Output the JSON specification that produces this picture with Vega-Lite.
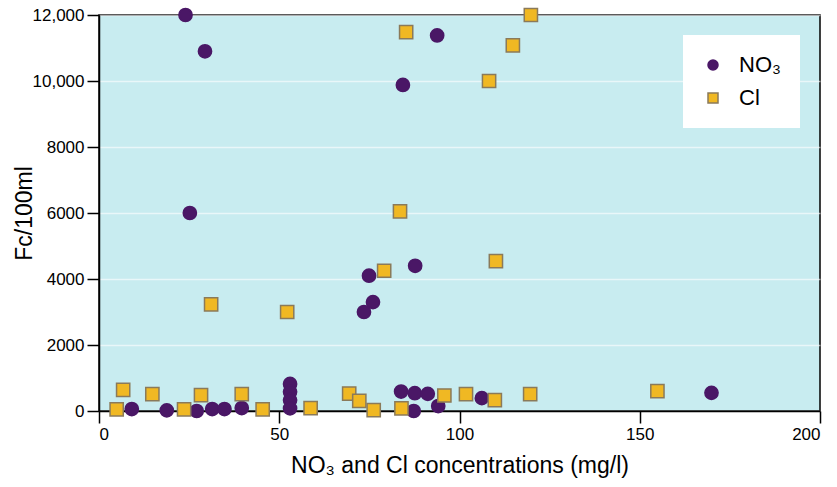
{
  "$schema": "https://vega.github.io/schema/vega-lite/v6.json",
  "width": 721,
  "height": 396,
  "autosize": {"type": "none"},
  "padding": {"left": 99, "top": 15, "right": 17, "bottom": 76},
  "background": "white",
  "config": {
    "font": "Liberation Sans",
    "view": {"fill": "#c8ecf0", "stroke": "black", "strokeWidth": 1.5},
    "axis": {
      "domainColor": "black", "domainWidth": 1.5, "tickColor": "black", "tickWidth": 1.5, "tickSize": 12,
      "labelFontSize": 17, "labelColor": "black", "titleFontSize": 23, "titleFontWeight": "normal", "titleColor": "black"
    }
  },
  "data": {"values": [
    {"c": 24, "fc": 12000, "ion": "NO₃"},
    {"c": 29.4, "fc": 10900, "ion": "NO₃"},
    {"c": 25.2, "fc": 6000, "ion": "NO₃"},
    {"c": 84.3, "fc": 9880, "ion": "NO₃"},
    {"c": 93.8, "fc": 11380, "ion": "NO₃"},
    {"c": 87.7, "fc": 4400, "ion": "NO₃"},
    {"c": 74.9, "fc": 4100, "ion": "NO₃"},
    {"c": 76.0, "fc": 3300, "ion": "NO₃"},
    {"c": 73.5, "fc": 3000, "ion": "NO₃"},
    {"c": 9.1, "fc": 60, "ion": "NO₃"},
    {"c": 18.8, "fc": 20, "ion": "NO₃"},
    {"c": 27.1, "fc": 0, "ion": "NO₃"},
    {"c": 31.4, "fc": 60, "ion": "NO₃"},
    {"c": 34.8, "fc": 60, "ion": "NO₃"},
    {"c": 39.6, "fc": 90, "ion": "NO₃"},
    {"c": 53.0, "fc": 820, "ion": "NO₃"},
    {"c": 53.0, "fc": 580, "ion": "NO₃"},
    {"c": 53.0, "fc": 330, "ion": "NO₃"},
    {"c": 53.0, "fc": 80, "ion": "NO₃"},
    {"c": 83.8, "fc": 590, "ion": "NO₃"},
    {"c": 87.6, "fc": 540, "ion": "NO₃"},
    {"c": 87.3, "fc": 0, "ion": "NO₃"},
    {"c": 91.2, "fc": 520, "ion": "NO₃"},
    {"c": 94.1, "fc": 150, "ion": "NO₃"},
    {"c": 106.2, "fc": 390, "ion": "NO₃"},
    {"c": 169.9, "fc": 550, "ion": "NO₃"},
    {"c": 119.8, "fc": 12000, "ion": "Cl"},
    {"c": 85.2, "fc": 11480, "ion": "Cl"},
    {"c": 114.8, "fc": 11080, "ion": "Cl"},
    {"c": 108.2, "fc": 10000, "ion": "Cl"},
    {"c": 83.5, "fc": 6050, "ion": "Cl"},
    {"c": 79.1, "fc": 4250, "ion": "Cl"},
    {"c": 110.1, "fc": 4540, "ion": "Cl"},
    {"c": 31.1, "fc": 3230, "ion": "Cl"},
    {"c": 52.2, "fc": 3000, "ion": "Cl"},
    {"c": 6.7, "fc": 640, "ion": "Cl"},
    {"c": 4.9, "fc": 50, "ion": "Cl"},
    {"c": 14.8, "fc": 510, "ion": "Cl"},
    {"c": 23.6, "fc": 50, "ion": "Cl"},
    {"c": 28.3, "fc": 480, "ion": "Cl"},
    {"c": 39.6, "fc": 510, "ion": "Cl"},
    {"c": 45.4, "fc": 50, "ion": "Cl"},
    {"c": 58.7, "fc": 90, "ion": "Cl"},
    {"c": 69.4, "fc": 530, "ion": "Cl"},
    {"c": 72.2, "fc": 310, "ion": "Cl"},
    {"c": 76.2, "fc": 30, "ion": "Cl"},
    {"c": 83.9, "fc": 80, "ion": "Cl"},
    {"c": 95.8, "fc": 470, "ion": "Cl"},
    {"c": 101.8, "fc": 510, "ion": "Cl"},
    {"c": 109.8, "fc": 330, "ion": "Cl"},
    {"c": 119.6, "fc": 510, "ion": "Cl"},
    {"c": 154.9, "fc": 600, "ion": "Cl"}
  ]},
  "mark": {"type": "point", "filled": true, "opacity": 1, "size": 175},
  "encoding": {
    "x": {
      "field": "c", "type": "quantitative",
      "scale": {"domain": [0, 200], "nice": false},
      "axis": {"values": [0, 50, 100, 150, 200], "grid": false, "title": "NO₃ and Cl concentrations (mg/l)", "titlePadding": 12, "labelPadding": 3}
    },
    "y": {
      "field": "fc", "type": "quantitative",
      "scale": {"domain": [0, 12000], "nice": false},
      "axis": {
        "values": [0, 2000, 4000, 6000, 8000, 10000, 12000],
        "labelExpr": "datum.value >= 10000 ? format(datum.value, ',') : format(datum.value, 'd')",
        "grid": true, "gridColor": "white", "gridOpacity": 0.6, "gridWidth": 1.5,
        "title": "Fc/100ml", "titlePadding": -4, "labelPadding": 3
      }
    },
    "color": {
      "field": "ion", "type": "nominal",
      "scale": {"domain": ["NO₃", "Cl"], "range": ["#4a1766", "#f0b823"]},
      "legend": {
        "title": null, "orient": "none", "legendX": 584, "legendY": 20,
        "fillColor": "white", "padding": 19, "labelFontSize": 22, "labelColor": "black",
        "symbolSize": 100, "rowPadding": 11, "labelOffset": 15, "symbolStrokeWidth": 1.5
      }
    },
    "shape": {
      "field": "ion", "type": "nominal",
      "scale": {"domain": ["NO₃", "Cl"], "range": ["circle", "square"]},
      "legend": null
    },
    "stroke": {
      "field": "ion", "type": "nominal",
      "scale": {"domain": ["NO₃", "Cl"], "range": ["#4a1766", "#8a7a5a"]},
      "legend": null
    },
    "strokeWidth": {"value": 1.5}
  }
}
